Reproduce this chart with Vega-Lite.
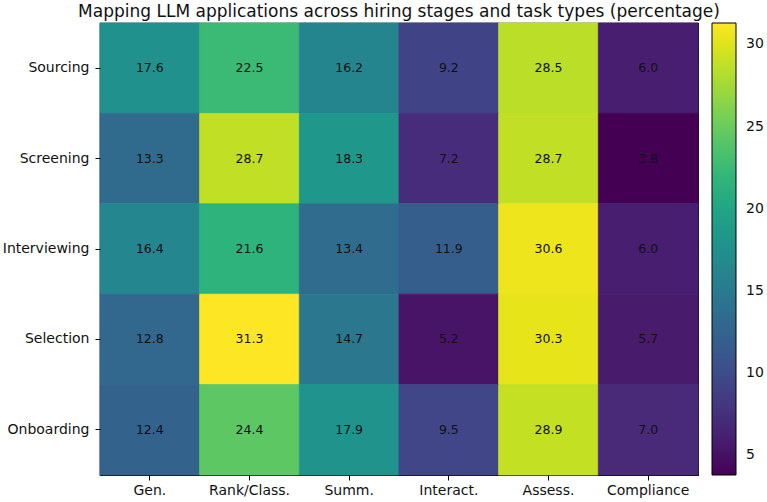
{
  "$schema": "https://vega.github.io/schema/vega-lite/v6.json",
  "width": 598,
  "height": 452,
  "autosize": {"type": "none"},
  "padding": {"left": 100, "top": 23, "right": 69, "bottom": 27},
  "background": "white",
  "title": {
    "text": "Mapping LLM applications across hiring stages and task types (percentage)",
    "font": "DejaVu Sans",
    "fontSize": 17,
    "fontWeight": "normal",
    "color": "#111111",
    "anchor": "middle",
    "offset": 2
  },
  "config": {
    "view": {"stroke": "#000000", "strokeWidth": 1.2},
    "font": "DejaVu Sans"
  },
  "resolve": {"scale": {"stroke": "independent"}, "legend": {"stroke": "independent"}},
  "data": {
    "values": [
      {"stage": "Sourcing", "task": "Gen.", "pct": 17.6},
      {"stage": "Sourcing", "task": "Rank/Class.", "pct": 22.5},
      {"stage": "Sourcing", "task": "Summ.", "pct": 16.2},
      {"stage": "Sourcing", "task": "Interact.", "pct": 9.2},
      {"stage": "Sourcing", "task": "Assess.", "pct": 28.5},
      {"stage": "Sourcing", "task": "Compliance", "pct": 6.0},
      {"stage": "Screening", "task": "Gen.", "pct": 13.3},
      {"stage": "Screening", "task": "Rank/Class.", "pct": 28.7},
      {"stage": "Screening", "task": "Summ.", "pct": 18.3},
      {"stage": "Screening", "task": "Interact.", "pct": 7.2},
      {"stage": "Screening", "task": "Assess.", "pct": 28.7},
      {"stage": "Screening", "task": "Compliance", "pct": 3.8},
      {"stage": "Interviewing", "task": "Gen.", "pct": 16.4},
      {"stage": "Interviewing", "task": "Rank/Class.", "pct": 21.6},
      {"stage": "Interviewing", "task": "Summ.", "pct": 13.4},
      {"stage": "Interviewing", "task": "Interact.", "pct": 11.9},
      {"stage": "Interviewing", "task": "Assess.", "pct": 30.6},
      {"stage": "Interviewing", "task": "Compliance", "pct": 6.0},
      {"stage": "Selection", "task": "Gen.", "pct": 12.8},
      {"stage": "Selection", "task": "Rank/Class.", "pct": 31.3},
      {"stage": "Selection", "task": "Summ.", "pct": 14.7},
      {"stage": "Selection", "task": "Interact.", "pct": 5.2},
      {"stage": "Selection", "task": "Assess.", "pct": 30.3},
      {"stage": "Selection", "task": "Compliance", "pct": 5.7},
      {"stage": "Onboarding", "task": "Gen.", "pct": 12.4},
      {"stage": "Onboarding", "task": "Rank/Class.", "pct": 24.4},
      {"stage": "Onboarding", "task": "Summ.", "pct": 17.9},
      {"stage": "Onboarding", "task": "Interact.", "pct": 9.5},
      {"stage": "Onboarding", "task": "Assess.", "pct": 28.9},
      {"stage": "Onboarding", "task": "Compliance", "pct": 7.0}
    ]
  },
  "encoding": {
    "x": {
      "field": "task",
      "type": "nominal",
      "sort": ["Gen.", "Rank/Class.", "Summ.", "Interact.", "Assess.", "Compliance"],
      "scale": {"paddingInner": 0, "paddingOuter": 0},
      "axis": {
        "title": null,
        "labelAngle": 0,
        "labelFont": "DejaVu Sans",
        "labelFontSize": 14,
        "labelColor": "#111111",
        "labelPadding": 3,
        "domain": false,
        "ticks": true,
        "tickColor": "#000000",
        "tickSize": 5,
        "grid": false
      }
    },
    "y": {
      "field": "stage",
      "type": "nominal",
      "sort": ["Sourcing", "Screening", "Interviewing", "Selection", "Onboarding"],
      "scale": {"paddingInner": 0, "paddingOuter": 0},
      "axis": {
        "title": null,
        "labelFont": "DejaVu Sans",
        "labelFontSize": 14,
        "labelColor": "#111111",
        "labelPadding": 6,
        "domain": false,
        "ticks": true,
        "tickColor": "#000000",
        "tickSize": 5,
        "grid": false
      }
    }
  },
  "layer": [
    {
      "mark": {"type": "rect", "strokeWidth": 0.8},
      "encoding": {
        "color": {
          "field": "pct",
          "type": "quantitative",
          "scale": {"scheme": "viridis", "domain": [3.8, 31.3], "nice": false},
          "legend": {
            "type": "gradient",
            "title": null,
            "orient": "right",
            "offset": 14,
            "direction": "vertical",
            "gradientLength": 452,
            "gradientThickness": 24,
            "gradientStrokeColor": "#000000",
            "gradientStrokeWidth": 1,
            "values": [5, 10, 15, 20, 25, 30],
            "labelFont": "DejaVu Sans",
            "labelFontSize": 14,
            "labelColor": "#111111",
            "labelOffset": 10
          }
        },
        "stroke": {
          "field": "pct",
          "type": "quantitative",
          "scale": {"scheme": "viridis", "domain": [3.8, 31.3], "nice": false},
          "legend": null
        }
      }
    },
    {
      "mark": {"type": "text", "font": "DejaVu Sans", "fontSize": 12.5, "color": "#111111"},
      "encoding": {
        "text": {"field": "pct", "type": "quantitative", "format": ".1f"}
      }
    }
  ]
}
